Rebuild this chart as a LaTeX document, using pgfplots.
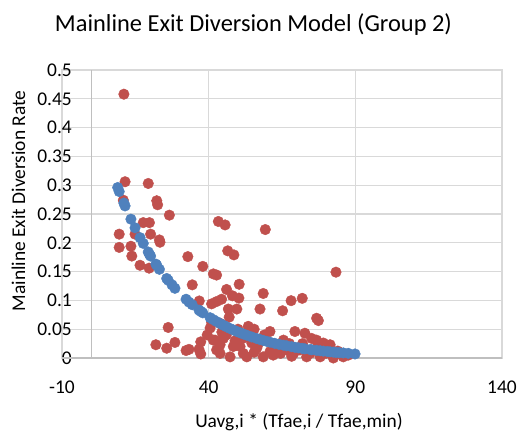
\documentclass[border=0pt]{standalone}
\usepackage{pgfplots}
\pgfplotsset{compat=1.18}
\usepackage{fontspec}
\setmainfont{Carlito}
\definecolor{exred}{HTML}{C0504D}
\definecolor{exblue}{HTML}{4F81BD}
\definecolor{gridgray}{HTML}{D9D9D9}
\definecolor{axgray}{HTML}{BFBFBF}
\begin{document}
\begin{tikzpicture}
\path[use as bounding box] (-62bp,-80bp) rectangle (459bp,358bp);
\begin{axis}[
  at={(0,0)}, anchor=south west,
  scale only axis,
  width=440bp, height=288bp,
  xmin=-10, xmax=140, ymin=0, ymax=0.5,
  xtick={-10,40,90,140},
  ytick={0,0.05,0.1,0.15,0.2,0.25,0.3,0.35,0.4,0.45,0.5},
  yticklabels={0,0.05,0.1,0.15,0.2,0.25,0.3,0.35,0.4,0.45,0.5},
  xticklabels={-10,40,90,140},
  grid=major,
  major grid style={gridgray, line width=1.2bp},
  axis line style={gridgray, line width=1.2bp},
  major tick length=0pt,
  tick style={draw=none},
  /pgf/number format/assume math mode=true,
  yticklabel style={font=\fontsize{19.5}{23}\selectfont, anchor=east, inner sep=0pt, xshift=10bp},
  xticklabel style={font=\fontsize{19.5}{23}\selectfont, anchor=north, inner sep=0pt, yshift=-23bp},
  clip=false,
]
\draw[axgray, line width=1.2bp] (axis cs:0,0) -- (axis cs:0,0.5);
\draw[axgray, line width=1.2bp] (axis cs:-10,0) -- (axis cs:140,0);
\addplot[only marks, mark=*, mark size=5.3bp, color=exred, mark options={fill=exred, draw=exred}] coordinates {
(11.1,0.458) (11.5,0.306) (19.4,0.303) (10.9,0.274) (22.3,0.273) (22.6,0.266)
(26.6,0.248) (17.7,0.235) (19.8,0.235) (9.5,0.215) (14.9,0.215) (20.2,0.215)
(23.2,0.205) (43.3,0.237) (45.6,0.231) (59.3,0.223) (23.4,0.201) (9.5,0.192)
(13.5,0.194) (13.8,0.177) (16.6,0.161) (19.7,0.156) (32.9,0.176) (38.0,0.159)
(46.5,0.186) (48.6,0.179) (41.6,0.146) (42.7,0.144) (34.4,0.127) (50.4,0.128)
(46.1,0.119) (48.1,0.108) (50.3,0.104) (58.6,0.112) (36.8,0.099) (41.0,0.094)
(42.7,0.098) (44.4,0.102) (46.7,0.085) (49.6,0.085) (47.0,0.071) (57.5,0.085)
(65.2,0.082) (68.1,0.0995) (71.9,0.1036) (83.4,0.149) (76.8,0.069) (77.4,0.065)
(26.2,0.053) (22.0,0.023) (25.7,0.017) (28.5,0.027) (32.3,0.013) (33.3,0.015)
(36.7,0.015) (37.3,0.028) (37.3,0.007) (40.5,0.052) (42.2,0.031) (42.7,0.014)
(43.9,0.008) (60.9,0.046) (69.4,0.046) (72.8,0.043) (41.6,0.031) (45.0,0.034)
(48.4,0.020) (51.8,0.008) (53.0,0.002) (56.4,0.017) (58.6,0.002) (60.9,0.011)
(65.5,0.031) (66.6,0.014) (68.3,0.003) (70.6,0.017) (73.4,0.002) (47.3,0.002)
(50.7,0.020) (54.7,0.026) (43.9,0.023) (75.1,0.034) (76.8,0.031) (79.1,0.026)
(81.4,0.023) (78.0,0.002) (82.5,0.000) (85.9,0.002) (87.6,0.005) (71.1,0.014)
(74.6,0.008) (44.5,0.045) (46.0,0.040) (49.0,0.030) (52.0,0.035) (55.5,0.010)
(57.0,0.025) (59.0,0.040) (62.0,0.005) (63.5,0.018) (64.5,0.008) (67.5,0.025)
(69.0,0.008) (72.0,0.025) (77.0,0.018) (80.0,0.008) (84.0,0.012) (39.5,0.040)
(44.0,0.060) (41.0,0.062) (50.0,0.050) (53.5,0.055) (55.5,0.050)
};
\addplot[only marks, mark=*, mark size=5.3bp, color=exblue, mark options={fill=exblue, draw=exblue}] coordinates {
(9.0,0.296) (9.5,0.289) (11.1,0.269) (11.5,0.264) (13.5,0.241) (14.9,0.226)
(16.6,0.209) (17.7,0.199) (19.4,0.184) (19.8,0.180) (20.2,0.177) (22.0,0.163)
(22.3,0.161) (23.2,0.154) (25.7,0.138) (26.2,0.135) (27.5,0.127) (28.5,0.121)
(32.3,0.102) (33.3,0.097) (34.4,0.0925) (36.7,0.0832) (37.3,0.0810)
(38.0,0.0784) (40.5,0.0699) (41.6,0.0665) (42.7,0.0632) (43.9,0.0599) (45.0,0.0569)
(46.1,0.0541) (47.3,0.0512) (48.4,0.0487) (49.6,0.0461) (50.7,0.0438) (51.8,0.0417)
(53.0,0.0395) (54.7,0.0365) (56.4,0.0338) (57.5,0.0321) (58.6,0.0305) (59.8,0.0289)
(60.9,0.0275) (62.5,0.0255) (64.0,0.0238) (65.5,0.0223) (66.6,0.0212) (68.3,0.0196)
(69.4,0.0186) (70.6,0.0176) (71.9,0.0166) (72.8,0.0159) (74.6,0.0147) (75.1,0.0143)
(76.8,0.0133) (78.0,0.0126) (79.1,0.0119) (80.5,0.0112) (81.4,0.0107) (82.5,0.0102)
(83.4,0.0098) (84.5,0.0093) (85.9,0.0088) (87.6,0.0081) (89.9,0.0070)
};
\end{axis}
\node[anchor=base, font=\fontsize{24.5}{29}\selectfont] at (191.5bp,326bp) {Mainline Exit Diversion Model (Group 2)};
\node[anchor=base, font=\fontsize{19.5}{23}\selectfont] at (237bp,-69bp) {Uavg,i * (Tfae,i / Tfae,min)};
\node[anchor=base, rotate=90, font=\fontsize{19.5}{23}\selectfont] at (-37bp,157bp) {Mainline Exit Diversion Rate};
\end{tikzpicture}
\end{document}
